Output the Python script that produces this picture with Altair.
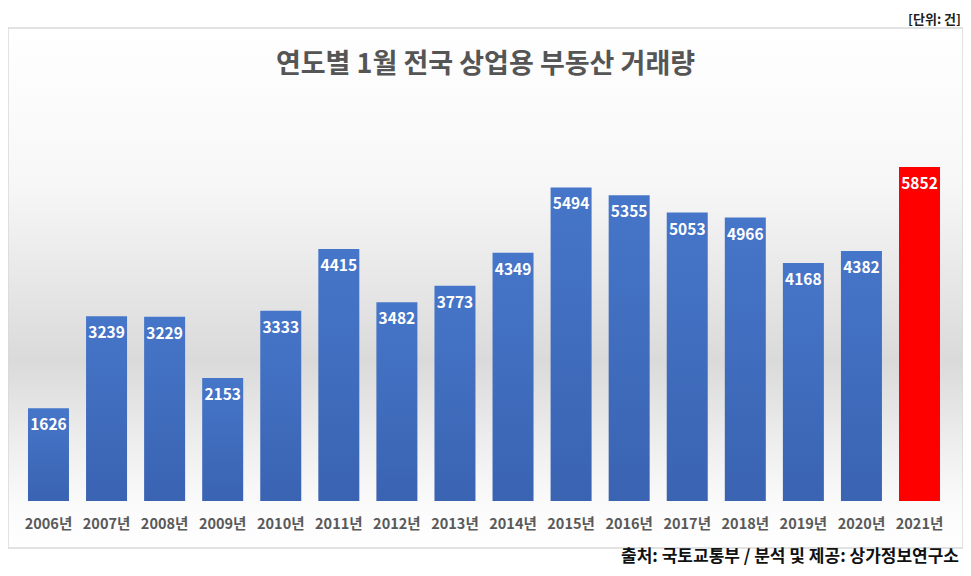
import altair as alt
import pandas as pd

years = ["2006년", "2007년", "2008년", "2009년", "2010년", "2011년", "2012년", "2013년",
         "2014년", "2015년", "2016년", "2017년", "2018년", "2019년", "2020년", "2021년"]
values = [1626, 3239, 3229, 2153, 3333, 4415, 3482, 3773,
          4349, 5494, 5355, 5053, 4966, 4168, 4382, 5852]
highlight_year = "2021년"

title_text = "연도별 1월 전국 상업용 부동산 거래량"
unit_text = "[단위: 건]"
source_text = "출처: 국토교통부 / 분석 및 제공: 상가정보연구소"

df = pd.DataFrame({"year": years, "value": values})
one = pd.DataFrame({"a": [0]})

W = 955
H = 473
BOX_H = 520
FONT = "Noto Sans CJK KR"

x_enc = alt.X(
    "year:N", sort=years,
    scale=alt.Scale(paddingInner=0.294, paddingOuter=0.37, align=0.465),
    axis=alt.Axis(title=None, labelAngle=0, labelFont=FONT, labelFontSize=14.5,
                  labelFontWeight="bold", labelColor="#595959", labelPadding=16,
                  ticks=False, domain=False, grid=False, zindex=2),
)
y_enc = alt.Y("value:Q", scale=alt.Scale(domain=[0, 8287], nice=False, zero=True), axis=None)

bg_grad = alt.Gradient(
    gradient="linear", x1=0, x2=0, y1=0, y2=1,
    stops=[
        alt.GradientStop(color="#ffffff", offset=0.0),
        alt.GradientStop(color="#f7f7f7", offset=0.3),
        alt.GradientStop(color="#dadada", offset=0.64),
        alt.GradientStop(color="#eeeeee", offset=0.8),
        alt.GradientStop(color="#fbfbfb", offset=0.92),
        alt.GradientStop(color="#ffffff", offset=1.0),
    ],
)
blue_grad = alt.Gradient(
    gradient="linear", x1=0, x2=0, y1=0, y2=1,
    stops=[
        alt.GradientStop(color="#4676c9", offset=0.0),
        alt.GradientStop(color="#3a63b2", offset=1.0),
    ],
)

background = alt.Chart(one).mark_rect(
    fill=bg_grad, stroke="#d9d9d9", strokeWidth=1.5
).encode(
    x=alt.value(0), x2=alt.value(W), y=alt.value(0), y2=alt.value(BOX_H)
)

base = alt.Chart(df)

blue_bars = base.transform_filter(
    alt.datum.year != highlight_year
).mark_bar(color=blue_grad).encode(x=x_enc, y=y_enc)

red_bar = base.transform_filter(
    alt.datum.year == highlight_year
).mark_bar(color="#ff0000").encode(x=x_enc, y=y_enc)

labels = base.mark_text(
    dy=17, baseline="middle", align="center", color="white",
    font=FONT, fontSize=15.5, fontWeight="bold"
).encode(x=x_enc, y=y_enc, text=alt.Text("value:Q", format="d"))

title = alt.Chart(one).mark_text(
    text=title_text, font=FONT, fontSize=27, fontWeight="bold",
    color="#555555", align="center", baseline="middle"
).encode(x=alt.value(W / 2), y=alt.value(37))

unit = alt.Chart(one).mark_text(
    text=unit_text, font=FONT, fontSize=13, fontWeight="bold",
    color="#222222", align="right", baseline="middle"
).encode(x=alt.value(W - 2), y=alt.value(-8))

source = alt.Chart(one).mark_text(
    text=source_text, font=FONT, fontSize=17, fontWeight="bold",
    color="#111111", align="right", baseline="middle"
).encode(x=alt.value(W - 4), y=alt.value(529))

chart = alt.layer(
    background, blue_bars, red_bar, labels, title, unit, source
).properties(
    width=W, height=H,
    autosize=alt.AutoSizeParams(type="none"),
    padding={"left": 0, "top": 20, "right": 0, "bottom": 66},
).configure_view(stroke=None).configure(background="white")

chart.save("out.html", embed_options={"renderer": "svg", "actions": False})
